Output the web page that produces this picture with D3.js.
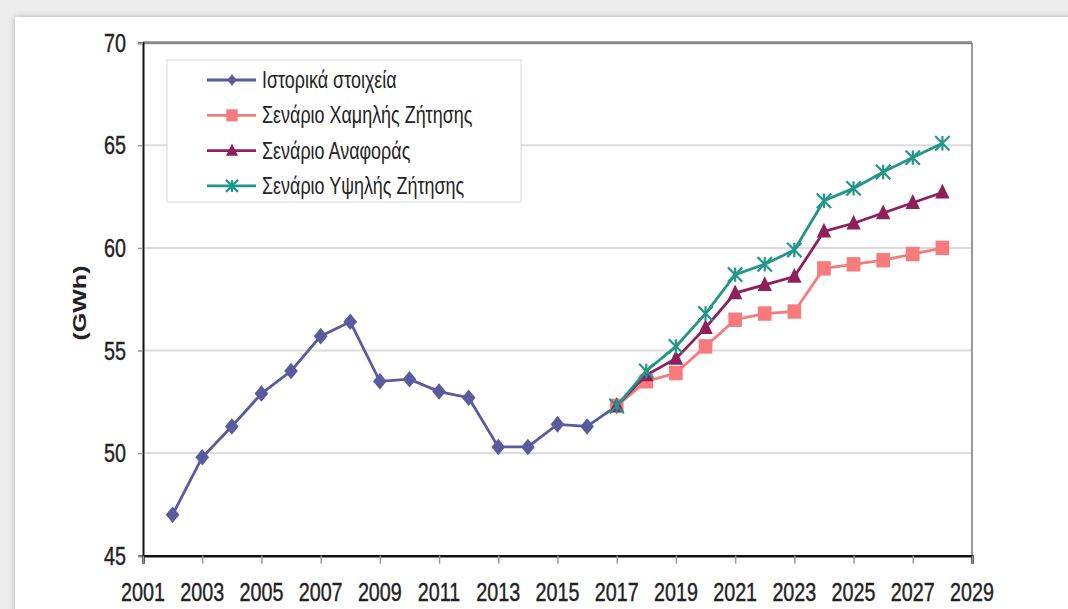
<!DOCTYPE html>
<html>
<head>
<meta charset="utf-8">
<script src="https://cdn.jsdelivr.net/npm/d3@7"></script>
<style>
  html, body { margin: 0; padding: 0; background: #ececec; }
  svg { display: block; }
  text { font-family: "Liberation Sans", Arial, sans-serif; fill: #222; }
</style>
</head>
<body>
<svg id="chart" width="1068" height="609"></svg>
<script>
// Electricity demand (GWh): history and three forecast scenarios
const histYears = [2002, 2003, 2004, 2005, 2006, 2007, 2008, 2009, 2010, 2011, 2012, 2013, 2014, 2015, 2016, 2017];
const histValues = [47.0, 49.8, 51.3, 52.9, 54.0, 55.7, 56.4, 53.5, 53.6, 53.0, 52.7, 50.3, 50.3, 51.4, 51.3, 52.3];

const scenYears = [2017, 2018, 2019, 2020, 2021, 2022, 2023, 2024, 2025, 2026, 2027, 2028];
const lowValues  = [52.3, 53.5, 53.9, 55.2, 56.5, 56.8, 56.9, 59.0, 59.2, 59.4, 59.7, 60.0];
const refValues  = [52.3, 53.8, 54.6, 56.1, 57.8, 58.2, 58.6, 60.8, 61.2, 61.7, 62.2, 62.7];
const highValues = [52.3, 54.0, 55.2, 56.8, 58.7, 59.2, 59.9, 62.3, 62.9, 63.7, 64.4, 65.1];

const seriesNames = ["Ιστορικά στοιχεία", "Σενάριο Χαμηλής Ζήτησης", "Σενάριο Αναφοράς", "Σενάριο Υψηλής Ζήτησης"];
const seriesColors = ["#5a5a9e", "#f77b7d", "#8e1f5a", "#23968b"];
const seriesMarkers = ["diamond", "square", "triangle", "cross"];

const xTicks = d3.range(2001, 2030, 2);
const yTicks = [45, 50, 55, 60, 65, 70];
const yLabel = "(GWh)";

const svg = d3.select("#chart");

// page panel with a soft edge
const defs = svg.append("defs");
const sh = defs.append("filter").attr("id", "shadow").attr("x", "-5%").attr("y", "-5%").attr("width", "110%").attr("height", "110%");
sh.append("feGaussianBlur").attr("in", "SourceAlpha").attr("stdDeviation", 3);
sh.append("feOffset").attr("dx", 0).attr("dy", 0).attr("result", "b");
sh.append("feComponentTransfer").append("feFuncA").attr("type", "linear").attr("slope", 0.25);
const fm = sh.append("feMerge");
fm.append("feMergeNode");
fm.append("feMergeNode").attr("in", "SourceGraphic");

svg.append("rect").attr("x", 15).attr("y", 17).attr("width", 1080).attr("height", 620)
  .attr("fill", "#fff").attr("filter", "url(#shadow)");

const x = d3.scaleLinear().domain([2001, 2029]).range([143, 972]);
const y = d3.scaleLinear().domain([45, 70]).range([555.7, 42.7]);

const sx = 0.76; // narrow lettering

// horizontal gridlines
svg.append("g").selectAll("line").data(yTicks.filter(v => v > 45 && v < 70)).join("line")
  .attr("x1", x(2001)).attr("x2", x(2029))
  .attr("y1", d => y(d)).attr("y2", d => y(d))
  .attr("stroke", "#dcdcdc").attr("stroke-width", 2);

// plot frame: top and right
svg.append("line").attr("x1", x(2001)).attr("x2", x(2029)).attr("y1", y(70)).attr("y2", y(70))
  .attr("stroke", "#8a8a8a").attr("stroke-width", 3);
svg.append("line").attr("x1", x(2029)).attr("x2", x(2029)).attr("y1", y(70)).attr("y2", y(45))
  .attr("stroke", "#777").attr("stroke-width", 1.5);

// y axis
const yAxis = svg.append("g").attr("transform", `translate(${x(2001)},0)`)
  .call(d3.axisLeft(y).tickValues(yTicks).tickSize(5).tickFormat(""));
yAxis.select(".domain").attr("stroke", "#111").attr("stroke-width", 2);
yAxis.selectAll(".tick line").attr("stroke", "#999").attr("stroke-width", 1.5);
svg.append("g").selectAll("g").data(yTicks).join("g")
  .attr("transform", d => `translate(126,${y(d) + 9}) scale(${sx},1)`)
  .append("text").attr("text-anchor", "end").attr("font-size", 26)
  .attr("stroke", "#222").attr("stroke-width", 0.4).text(d => d);

// x axis
const xAxis = svg.append("g").attr("transform", `translate(0,${y(45)})`)
  .call(d3.axisBottom(x).tickValues(xTicks).tickSize(8).tickFormat(""));
xAxis.select(".domain").attr("stroke", "#111").attr("stroke-width", 2.5);
xAxis.selectAll(".tick line").attr("stroke", "#999").attr("stroke-width", 1.5);
svg.append("g").selectAll("g").data(xTicks).join("g")
  .attr("transform", d => `translate(${x(d)},601) scale(${sx},1)`)
  .append("text").attr("text-anchor", "middle").attr("font-size", 26)
  .attr("stroke", "#222").attr("stroke-width", 0.4).text(d => d);

// y axis title
svg.append("g").attr("transform", `translate(86,303) rotate(-90) scale(1,${sx})`)
  .append("text").attr("text-anchor", "middle").attr("font-size", 25).attr("font-weight", "bold").text(yLabel);

// marker shapes
function marker(sel, kind, color, s) {
  if (kind === "diamond") {
    sel.append("path").attr("d", `M0,${-s * 1.15}L${s * 0.95},0L0,${s * 1.15}L${-s * 0.95},0Z`).attr("fill", color);
  } else if (kind === "square") {
    sel.append("rect").attr("x", -s * 0.95).attr("y", -s).attr("width", s * 1.9).attr("height", s * 2).attr("fill", color);
  } else if (kind === "triangle") {
    sel.append("path").attr("d", `M0,${-s * 1.2}L${s},${s * 0.85}L${-s},${s * 0.85}Z`).attr("fill", color);
  } else {
    sel.append("path").attr("d", `M${-s},${-s}L${s},${s}M${s},${-s}L${-s},${s}M0,${-s}L0,${s}`)
      .attr("stroke", color).attr("stroke-width", 2.2).attr("fill", "none");
  }
}

const series = [
  { years: histYears, values: histValues },
  { years: scenYears, values: lowValues },
  { years: scenYears, values: refValues },
  { years: scenYears, values: highValues }
];

const line = d3.line().x(d => x(d[0])).y(d => y(d[1]));

series.forEach((s, i) => {
  const pts = s.years.map((yr, k) => [yr, s.values[k]]);
  const g = svg.append("g");
  g.append("path").datum(pts).attr("d", line)
    .attr("fill", "none").attr("stroke", seriesColors[i]).attr("stroke-width", 2.8);
  g.selectAll("g.pt").data(pts).join("g").attr("class", "pt")
    .attr("transform", d => `translate(${x(d[0])},${y(d[1])})`)
    .each(function () { marker(d3.select(this), seriesMarkers[i], seriesColors[i], 7.2); });
});

// legend
const lg = svg.append("g");
lg.append("rect").attr("x", 167).attr("y", 60).attr("width", 354).attr("height", 142)
  .attr("fill", "#fff").attr("stroke", "#d8d8d8").attr("stroke-width", 1);
seriesNames.forEach((name, i) => {
  const cy = 80 + i * 35.3;
  const row = lg.append("g");
  row.append("line").attr("x1", 207).attr("x2", 256).attr("y1", cy).attr("y2", cy)
    .attr("stroke", seriesColors[i]).attr("stroke-width", 2.8);
  const m = row.append("g").attr("transform", `translate(232,${cy})`);
  marker(m, seriesMarkers[i], seriesColors[i], i === 0 ? 5 : 6);
  row.append("g").attr("transform", `translate(262,${cy + 8}) scale(0.78,1)`)
    .append("text").attr("font-size", 23).text(name);
});
</script>
</body>
</html>
